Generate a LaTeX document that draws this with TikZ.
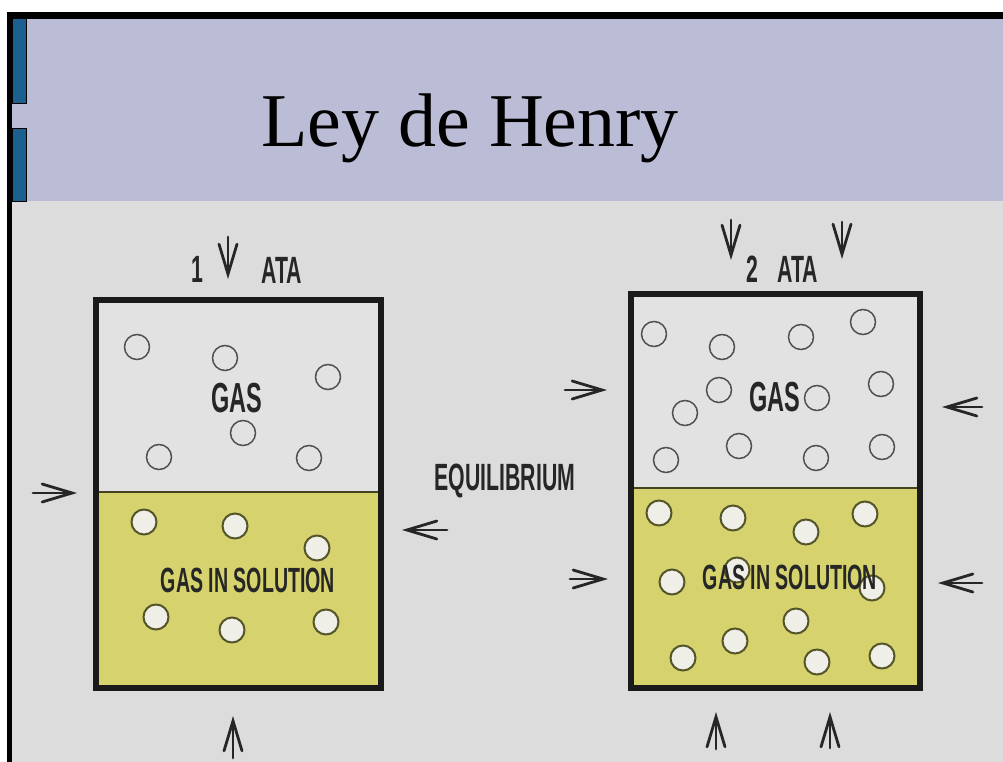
\documentclass[tikz,border=0pt]{standalone}
\usepackage{fontspec}
\setmainfont{Liberation Serif}
\newfontfamily\condfont[FakeStretch=0.56,UprightFont={* Bold}]{Liberation Sans}
\usetikzlibrary{arrows.meta}
\definecolor{bggray}{HTML}{DCDCDC}
\definecolor{gasgray}{HTML}{E2E2E2}
\definecolor{lavender}{HTML}{BBBDD7}
\definecolor{liquid}{HTML}{D6D36F}
\definecolor{barblue}{HTML}{1B5F8F}
\definecolor{boxblack}{HTML}{1A1A1A}
\definecolor{inkgray}{HTML}{262626}
\definecolor{bubblegas}{HTML}{505050}
\definecolor{bubbleliq}{HTML}{55552A}
\definecolor{bubblefill}{HTML}{EFEFE8}
\begin{document}
\begin{tikzpicture}[x=1pt,y=-1pt,
  tank/.style={line width=6pt, draw=boxblack},
  divider/.style={line width=2.5pt, draw=bubbleliq!80!black},
  gasbub/.style={draw=bubblegas, line width=1.5pt},
  liqbub/.style={draw=bubbleliq, fill=bubblefill, line width=2pt},
  press/.style={line width=2.8pt, draw=inkgray, line cap=round,
    -{Straight Barb[length=30pt,width=18pt,line cap=round]}},
  lbl/.style={inner sep=0pt, text=inkgray},
  big/.style={lbl, font=\condfont\fontsize{42}{42}\selectfont},
  mid/.style={lbl, font=\condfont\fontsize{38}{38}\selectfont},
  small/.style={lbl, font=\condfont\fontsize{35}{35}\selectfont}]
\useasboundingbox (0,0) rectangle (1003,762);
% frame and background
\fill[white] (0,0) rectangle (1003,762);
\fill[black] (7,12) rectangle (1003,762);
\fill[lavender] (12,19) rectangle (1003,201);
\fill[bggray] (12,201) rectangle (1003,762);
\filldraw[fill=barblue, draw=black, line width=1pt] (12,19) rectangle (26,104);
\filldraw[fill=barblue, draw=black, line width=1pt] (12,129) rectangle (26,201);
\node[anchor=base, inner sep=0pt, font=\fontsize{76}{76}\selectfont] (title) at (470,147) {Ley de Henry};

% ---- left tank (1 ATA)
\fill[gasgray] (96,300) rectangle (381,492);
\fill[liquid] (96,492) rectangle (381,688);
\draw[divider] (96,492) -- (381,492);
\draw[tank] (96,300) rectangle (381,688);
\foreach \p in {(137,347),(225,358),(328,377),(243,433),(159,457),(309,458)}
  \draw[gasbub] \p circle (12.5);
\foreach \p in {(144,522),(235,526),(317,548),(156,617),(232,630),(326,622)}
  \draw[liqbub] \p circle (12.5);
\node[big] (gasL) at (237,398) {GAS};
\node[small] (solL) at (248,580) {GAS IN SOLUTION};
\node[mid] (oneL) at (197,269) {1};
\node[mid] (ataL) at (282,270) {ATA};

\coordinate (lTopA) at (228,237); \coordinate (lTopB) at (228,279);
\coordinate (lSideA) at (33,493); \coordinate (lSideB) at (77,493);
\coordinate (lRightA) at (447,530); \coordinate (lRightB) at (402,530);
\coordinate (lBotA) at (233,758); \coordinate (lBotB) at (233,716);
\draw[press] (lTopA) -- (lTopB);
\draw[press] (lSideA) -- (lSideB);
\draw[press] (lRightA) -- (lRightB);
\draw[press] (lBotA) -- (lBotB);

\node[mid] (equil) at (505,481) {EQUILIBRIUM};

% ---- right tank (2 ATA)
\fill[gasgray] (631,294) rectangle (920,488);
\fill[liquid] (631,488) rectangle (920,688);
\draw[divider] (631,488) -- (920,488);
\draw[tank] (631,294) rectangle (920,688);
\foreach \p in {(654,334),(722,347),(801,337),(863,322),(719,390),(685,413),
                (817,398),(881,384),(739,446),(666,460),(816,458),(882,447)}
  \draw[gasbub] \p circle (12.5);
\foreach \p in {(659,513),(733,518),(806,532),(865,514),(672,582),(737,570),
                (872,588),(796,621),(735,641),(683,658),(817,662),(882,656)}
  \draw[liqbub] \p circle (12.5);
\node[big] (gasR) at (775,397) {GAS};
\node[small] (solR) at (790,577) {GAS IN SOLUTION};
\node[mid] (twoR) at (752,269) {2};
\node[mid] (ataR) at (798,269) {ATA};

\coordinate (rTop1A) at (731,220); \coordinate (rTop1B) at (731,260);
\coordinate (rTop2A) at (842,222); \coordinate (rTop2B) at (842,259);
\coordinate (rL1A) at (565,390); \coordinate (rL1B) at (607,390);
\coordinate (rR1A) at (982,407); \coordinate (rR1B) at (942,407);
\coordinate (rL2A) at (570,579); \coordinate (rL2B) at (608,579);
\coordinate (rR2A) at (982,583); \coordinate (rR2B) at (938,583);
\coordinate (rB1A) at (716,749); \coordinate (rB1B) at (716,712);
\coordinate (rB2A) at (830,748); \coordinate (rB2B) at (830,712);
\foreach \a/\b in {rTop1A/rTop1B, rTop2A/rTop2B, rL1A/rL1B, rR1A/rR1B,
                   rL2A/rL2B, rR2A/rR2B, rB1A/rB1B, rB2A/rB2B}
  \draw[press] (\a) -- (\b);
\end{tikzpicture}
\end{document}
